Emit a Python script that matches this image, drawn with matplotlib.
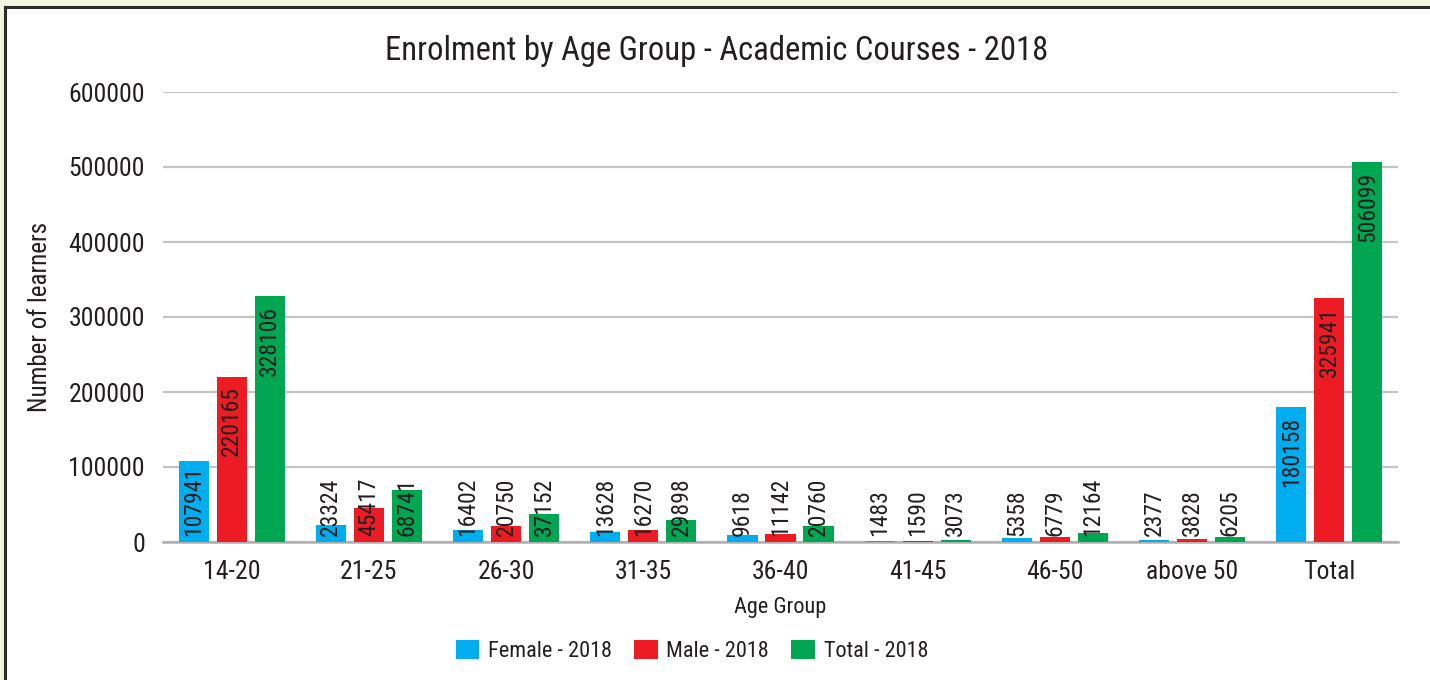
import matplotlib
matplotlib.use("Agg")
import matplotlib.pyplot as plt
import numpy as np
from matplotlib.lines import Line2D
from matplotlib.patches import Rectangle

# ==========================================
# Data
# ==========================================

age_groups = ["14-20", "21-25", "26-30", "31-35", "36-40",
              "41-45", "46-50", "above 50", "Total"]

female = [107941, 23324, 16402, 13628, 9618, 1483, 5358, 2377, 180158]
male = [220165, 45417, 20750, 16270, 11142, 1590, 6779, 3828, 325941]
total = [328106, 68741, 37152, 29898, 20760, 3073, 12164, 6205, 506099]

series_names = ["Female - 2018", "Male - 2018", "Total - 2018"]
colors = ["#00AEEF", "#ED1C24", "#00A651"]
y_ticks = [0, 100000, 200000, 300000, 400000, 500000, 600000]

# ==========================================
# Style
# ==========================================

plt.rcParams["font.family"] = ["Roboto Condensed", "Liberation Sans Narrow",
                               "DejaVu Sans"]
plt.rcParams["font.stretch"] = "condensed"
text_color = "#231F20"

fig = plt.figure(figsize=(14.3, 6.8), dpi=100)
fig.patch.set_facecolor("#F3F6DF")

# white panel with dark border on top / left
W, H = 1430, 680
fig.patches.append(Rectangle((5 / W, 0), 1, 1 - 7 / H,
                             transform=fig.transFigure,
                             facecolor="white", edgecolor="none",
                             zorder=-10))
fig.lines.append(Line2D([4.5 / W, 4.5 / W], [0, 1 - 7 / H],
                        transform=fig.transFigure,
                        color="#2B2B2B", lw=2.2))
fig.lines.append(Line2D([4.5 / W, 1], [1 - 7 / H, 1 - 7 / H],
                        transform=fig.transFigure,
                        color="#2B2B2B", lw=2.2))

ax = fig.add_axes([163 / W, 1 - 542 / H, (1398 - 163) / W, (542 - 92) / H])
ax.set_facecolor("none")

# ==========================================
# Bars
# ==========================================

x = np.arange(len(age_groups))
width = 0.219
offset = 0.277

for i, (vals, name, col) in enumerate(zip([female, male, total],
                                         series_names, colors)):
    pos = x + (i - 1) * offset
    ax.bar(pos, vals, width=width, color=col, label=name, zorder=3)

    for px, v in zip(pos, vals):
        if v >= 150000:
            ax.annotate(str(v), xy=(px, v), xytext=(0, -7),
                        textcoords="offset points", rotation=90,
                        ha="center", va="top", fontsize=17,
                        color=text_color, zorder=4)
        else:
            ax.annotate(str(v), xy=(px, 0), xytext=(0, 4),
                        textcoords="offset points", rotation=90,
                        ha="center", va="bottom", fontsize=17,
                        color=text_color, zorder=4)

# ==========================================
# Axes
# ==========================================

ax.set_xlim(-0.5, len(age_groups) - 0.5)
ax.set_ylim(0, 600000)
ax.set_yticks(y_ticks)
ax.set_yticklabels([str(t) for t in y_ticks])
ax.set_xticks(x)
ax.set_xticklabels(age_groups)

ax.tick_params(axis="both", length=0, labelsize=18.5, colors=text_color)
ax.tick_params(axis="y", pad=13)
ax.tick_params(axis="x", pad=13)

ax.grid(axis="y", color="#C4C4C4", lw=1.6, zorder=0)
for side in ["top", "right", "left"]:
    ax.spines[side].set_visible(False)
ax.spines["bottom"].set_color("#B0B0B0")
ax.spines["bottom"].set_linewidth(1.8)
ax.spines["bottom"].set_zorder(2)

ax.set_xlabel("Age Group", fontsize=16, color=text_color, labelpad=9)
ax.set_ylabel("Number of learners", fontsize=18, color=text_color,
              labelpad=12)

fig.text(717 / W, 1 - 51 / H,
         "Enrolment by Age Group - Academic Courses - 2018",
         ha="center", va="center", fontsize=23.5, color=text_color)

# ==========================================
# Legend
# ==========================================

leg = fig.legend(loc="center", bbox_to_anchor=(692 / W, 1 - 651 / H),
                 ncol=3, frameon=False, fontsize=16,
                 handlelength=1.05, handleheight=0.95,
                 handletextpad=0.4, columnspacing=1.0)
for t in leg.get_texts():
    t.set_color(text_color)

fig.savefig("out.png", dpi=100, facecolor=fig.get_facecolor())
